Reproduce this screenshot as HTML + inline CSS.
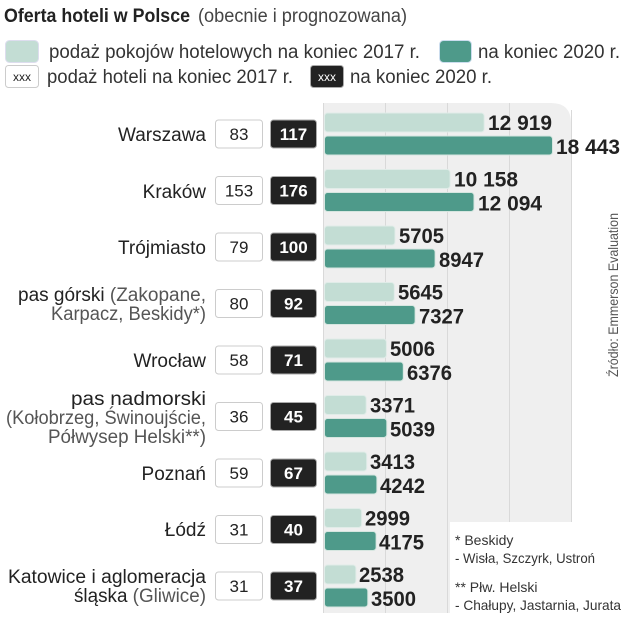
<!DOCTYPE html>
<html><head><meta charset="utf-8"><style>body{margin:0;background:#fff}svg{display:block}</style></head><body>
<svg width="623" height="640" xmlns="http://www.w3.org/2000/svg" font-family="Liberation Sans, sans-serif">
<defs>
<g id="boxes">
<rect x="215.5" y="-14" width="47" height="28" rx="3" fill="#fff" stroke="#ccc"/>
<rect x="270.5" y="-14" width="46" height="28" rx="3" fill="#222" stroke="#aaa"/>
</g>
</defs>
<path d="M323 103 H551 Q571 103 571 123 V613 H323 Z" fill="#efefef"/>
<rect x="450" y="522" width="173" height="118" fill="#fff"/>
<g stroke="#d9d9d9" stroke-width="1">
<line x1="323.5" y1="103" x2="323.5" y2="613"/><line x1="385.5" y1="103" x2="385.5" y2="613"/>
<line x1="447.5" y1="103" x2="447.5" y2="613"/><line x1="509.5" y1="103" x2="509.5" y2="522"/>
<line x1="571.5" y1="110" x2="571.5" y2="522"/>
</g>
<text x="4" y="22" font-size="19" font-weight="bold" fill="#222" textLength="186" lengthAdjust="spacingAndGlyphs">Oferta hoteli w Polsce</text>
<text x="198" y="22" font-size="19" fill="#444" textLength="209" lengthAdjust="spacingAndGlyphs">(obecnie i prognozowana)</text>
<rect x="5.5" y="40.5" width="33" height="22" rx="4" fill="#c3ddd4" stroke="#dde"/>
<text x="49" y="58" font-size="19" fill="#333" textLength="371" lengthAdjust="spacingAndGlyphs">podaż pokojów hotelowych na koniec 2017 r.</text>
<rect x="439.5" y="40.5" width="32" height="22" rx="4" fill="#4e9a8a" stroke="#cde"/>
<text x="478" y="58" font-size="19" fill="#333" textLength="142" lengthAdjust="spacingAndGlyphs">na koniec 2020 r.</text>
<rect x="5.5" y="65.5" width="33" height="22" rx="3" fill="#fff" stroke="#ccc"/>
<text x="22" y="81" font-size="12" fill="#222" text-anchor="middle">xxx</text>
<text x="47" y="83" font-size="19" fill="#333" textLength="246" lengthAdjust="spacingAndGlyphs">podaż hoteli na koniec 2017 r.</text>
<rect x="310.5" y="65.5" width="33" height="22" rx="3" fill="#222" stroke="#aaa"/>
<text x="327" y="81" font-size="12" fill="#fff" text-anchor="middle">xxx</text>
<text x="350" y="83" font-size="19" fill="#333" textLength="142" lengthAdjust="spacingAndGlyphs">na koniec 2020 r.</text>
<text transform="translate(618,377) rotate(-90)" font-size="14" fill="#555" textLength="164" lengthAdjust="spacingAndGlyphs">Źródło: Emmerson Evaluation</text>
<g font-size="14" fill="#333">
<text x="455" y="545">* Beskidy</text>
<text x="455" y="563" textLength="140" lengthAdjust="spacingAndGlyphs">- Wisła, Szczyrk, Ustroń</text>
<text x="455" y="592">** Płw. Helski</text>
<text x="455" y="610" textLength="166" lengthAdjust="spacingAndGlyphs">- Chałupy, Jastarnia, Jurata</text>
</g>
<g font-size="19" fill="#222" text-anchor="end">
<text x="206" y="141">Warszawa</text>
<text x="206" y="198">Kraków</text>
<text x="206" y="254">Trójmiasto</text>
<text x="206" y="301" textLength="188" lengthAdjust="spacingAndGlyphs">pas górski <tspan fill="#555">(Zakopane,</tspan></text>
<text x="206" y="320" fill="#555" textLength="155" lengthAdjust="spacingAndGlyphs">Karpacz, Beskidy*)</text>
<text x="206" y="367">Wrocław</text>
<text x="206" y="405" textLength="135" lengthAdjust="spacingAndGlyphs">pas nadmorski</text>
<text x="206" y="424" fill="#555" textLength="200" lengthAdjust="spacingAndGlyphs">(Kołobrzeg, Świnoujście,</text>
<text x="206" y="443" fill="#555" textLength="158" lengthAdjust="spacingAndGlyphs">Półwysep Helski**)</text>
<text x="206" y="480">Poznań</text>
<text x="206" y="536">Łódź</text>
<text x="206" y="583" textLength="198" lengthAdjust="spacingAndGlyphs">Katowice i aglomeracja</text>
<text x="206" y="602" textLength="132" lengthAdjust="spacingAndGlyphs">śląska <tspan fill="#555">(Gliwice)</tspan></text>
</g>

<g font-size="21" font-weight="bold" fill="#222" lengthAdjust="spacingAndGlyphs">
<g transform="translate(0,134)"><use href="#boxes"/><text x="239" y="6" font-size="17" font-weight="normal" text-anchor="middle">83</text><text x="293.5" y="6" font-size="17" fill="#fff" text-anchor="middle">117</text>
<rect x="324.5" y="-21" width="159.7" height="19" rx="3" fill="#c3ddd4" stroke="#e0ece8"/><rect x="324.5" y="2" width="228" height="19" rx="3" fill="#4e9a8a" stroke="#d6e6e0"/>
<text x="488" y="-4" textLength="64" lengthAdjust="spacingAndGlyphs">12 919</text><text x="556" y="20" textLength="64" lengthAdjust="spacingAndGlyphs">18 443</text></g>

<g transform="translate(0,190.5)"><use href="#boxes"/><text x="239" y="6" font-size="17" font-weight="normal" text-anchor="middle">153</text><text x="293.5" y="6" font-size="17" fill="#fff" text-anchor="middle">176</text>
<rect x="324.5" y="-21" width="125.6" height="19" rx="3" fill="#c3ddd4" stroke="#e0ece8"/><rect x="324.5" y="2" width="149.5" height="19" rx="3" fill="#4e9a8a" stroke="#d6e6e0"/>
<text x="454" y="-4" textLength="64" lengthAdjust="spacingAndGlyphs">10 158</text><text x="478" y="20" textLength="64" lengthAdjust="spacingAndGlyphs">12 094</text></g>

<g transform="translate(0,247)"><use href="#boxes"/><text x="239" y="6" font-size="17" font-weight="normal" text-anchor="middle">79</text><text x="293.5" y="6" font-size="17" fill="#fff" text-anchor="middle">100</text>
<rect x="324.5" y="-21" width="70.5" height="19" rx="3" fill="#c3ddd4" stroke="#e0ece8"/><rect x="324.5" y="2" width="110.6" height="19" rx="3" fill="#4e9a8a" stroke="#d6e6e0"/>
<text x="399" y="-4" textLength="45" lengthAdjust="spacingAndGlyphs">5705</text><text x="439" y="20" textLength="45" lengthAdjust="spacingAndGlyphs">8947</text></g>

<g transform="translate(0,303.5)"><use href="#boxes"/><text x="239" y="6" font-size="17" font-weight="normal" text-anchor="middle">80</text><text x="293.5" y="6" font-size="17" fill="#fff" text-anchor="middle">92</text>
<rect x="324.5" y="-21" width="69.8" height="19" rx="3" fill="#c3ddd4" stroke="#e0ece8"/><rect x="324.5" y="2" width="90.6" height="19" rx="3" fill="#4e9a8a" stroke="#d6e6e0"/>
<text x="398" y="-4" textLength="45" lengthAdjust="spacingAndGlyphs">5645</text><text x="419" y="20" textLength="45" lengthAdjust="spacingAndGlyphs">7327</text></g>

<g transform="translate(0,360)"><use href="#boxes"/><text x="239" y="6" font-size="17" font-weight="normal" text-anchor="middle">58</text><text x="293.5" y="6" font-size="17" fill="#fff" text-anchor="middle">71</text>
<rect x="324.5" y="-21" width="61.9" height="19" rx="3" fill="#c3ddd4" stroke="#e0ece8"/><rect x="324.5" y="2" width="78.8" height="19" rx="3" fill="#4e9a8a" stroke="#d6e6e0"/>
<text x="390" y="-4" textLength="45" lengthAdjust="spacingAndGlyphs">5006</text><text x="407" y="20" textLength="45" lengthAdjust="spacingAndGlyphs">6376</text></g>

<g transform="translate(0,416.5)"><use href="#boxes"/><text x="239" y="6" font-size="17" font-weight="normal" text-anchor="middle">36</text><text x="293.5" y="6" font-size="17" fill="#fff" text-anchor="middle">45</text>
<rect x="324.5" y="-21" width="41.7" height="19" rx="3" fill="#c3ddd4" stroke="#e0ece8"/><rect x="324.5" y="2" width="62.3" height="19" rx="3" fill="#4e9a8a" stroke="#d6e6e0"/>
<text x="370" y="-4" textLength="45" lengthAdjust="spacingAndGlyphs">3371</text><text x="390" y="20" textLength="45" lengthAdjust="spacingAndGlyphs">5039</text></g>

<g transform="translate(0,473)"><use href="#boxes"/><text x="239" y="6" font-size="17" font-weight="normal" text-anchor="middle">59</text><text x="293.5" y="6" font-size="17" fill="#fff" text-anchor="middle">67</text>
<rect x="324.5" y="-21" width="42.2" height="19" rx="3" fill="#c3ddd4" stroke="#e0ece8"/><rect x="324.5" y="2" width="52.4" height="19" rx="3" fill="#4e9a8a" stroke="#d6e6e0"/>
<text x="370" y="-4" textLength="45" lengthAdjust="spacingAndGlyphs">3413</text><text x="380" y="20" textLength="45" lengthAdjust="spacingAndGlyphs">4242</text></g>

<g transform="translate(0,529.5)"><use href="#boxes"/><text x="239" y="6" font-size="17" font-weight="normal" text-anchor="middle">31</text><text x="293.5" y="6" font-size="17" fill="#fff" text-anchor="middle">40</text>
<rect x="324.5" y="-21" width="37.1" height="19" rx="3" fill="#c3ddd4" stroke="#e0ece8"/><rect x="324.5" y="2" width="51.6" height="19" rx="3" fill="#4e9a8a" stroke="#d6e6e0"/>
<text x="365" y="-4" textLength="45" lengthAdjust="spacingAndGlyphs">2999</text><text x="379" y="20" textLength="45" lengthAdjust="spacingAndGlyphs">4175</text></g>

<g transform="translate(0,586)"><use href="#boxes"/><text x="239" y="6" font-size="17" font-weight="normal" text-anchor="middle">31</text><text x="293.5" y="6" font-size="17" fill="#fff" text-anchor="middle">37</text>
<rect x="324.5" y="-21" width="31.4" height="19" rx="3" fill="#c3ddd4" stroke="#e0ece8"/><rect x="324.5" y="2" width="43.3" height="19" rx="3" fill="#4e9a8a" stroke="#d6e6e0"/>
<text x="359" y="-4" textLength="45" lengthAdjust="spacingAndGlyphs">2538</text><text x="371" y="20" textLength="45" lengthAdjust="spacingAndGlyphs">3500</text></g>
</g>
</svg>
</body></html>
